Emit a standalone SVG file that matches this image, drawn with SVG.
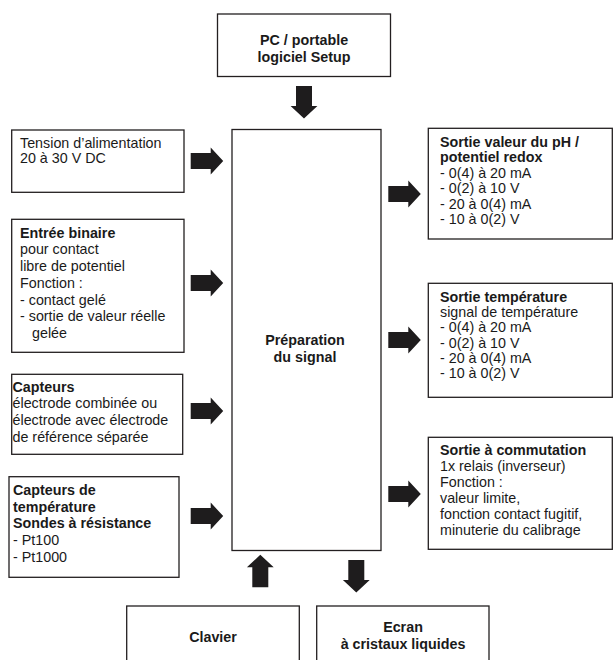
<svg xmlns="http://www.w3.org/2000/svg" xmlns:xlink="http://www.w3.org/1999/xlink" width="613" height="660" viewBox="0 0 613 660">
<style>
.box{fill:#fff;stroke:#231f20;stroke-width:1.3}
text{font-family:"Liberation Sans",Arial,Helvetica,sans-serif;font-size:14.3px;fill:#1a1a1a}
.b{font-weight:bold}
.c{text-anchor:middle;font-weight:bold}
.arr{fill:#1e1c1d}
</style>
<defs>
<path id="arr" d="M0,-8 H20 V-13.4 L32.5,0 L20,13.4 V8 H0 Z"/>
</defs>
<rect width="613" height="660" fill="#fff"/>

<g id="pc">
<rect class="box" x="217.5" y="14" width="173" height="62.5"/>
<text class="c" x="304" y="44.5">PC / portable</text>
<text class="c" x="304" y="62">logiciel Setup</text>
</g>

<g id="central">
<rect class="box" x="232" y="129.5" width="149" height="421"/>
<text class="c" x="305" y="345">Préparation</text>
<text class="c" x="305" y="361.7">du signal</text>
</g>

<g id="tension">
<rect class="box" x="11.7" y="130" width="172.3" height="62.3"/>
<text x="20" y="148.3">Tension d’alimentation</text>
<text x="20" y="163.3">20 à 30 V DC</text>
</g>

<g id="entree">
<rect class="box" x="11.7" y="219.3" width="172.3" height="133"/>
<text class="b" x="20" y="237.7">Entrée binaire</text>
<text x="20" y="254.4">pour contact</text>
<text x="20" y="271.1">libre de potentiel</text>
<text x="20" y="287.8">Fonction :</text>
<text x="20" y="304.5">- contact gelé</text>
<text x="20" y="321.2">- sortie de valeur réelle</text>
<text x="32" y="337.9">gelée</text>
</g>

<g id="capteurs">
<rect class="box" x="11.7" y="374.3" width="171" height="80"/>
<text class="b" x="12.5" y="391.7">Capteurs</text>
<text x="12.5" y="408.3">électrode combinée ou</text>
<text x="12.5" y="425">électrode avec électrode</text>
<text x="12.5" y="441.7">de référence séparée</text>
</g>

<g id="capteurs-temp">
<rect class="box" x="9" y="476.7" width="170" height="100.6"/>
<text class="b" x="13" y="495">Capteurs de</text>
<text class="b" x="13" y="511.7">température</text>
<text class="b" x="13" y="528.3">Sondes à résistance</text>
<text x="13" y="545">- Pt100</text>
<text x="13" y="561.7">- Pt1000</text>
</g>

<g id="sortie-ph">
<rect class="box" x="428.3" y="128.3" width="184" height="110.7"/>
<text class="b" x="440" y="146.7">Sortie valeur du pH /</text>
<text class="b" x="440" y="162.2">potentiel redox</text>
<text x="440" y="177.7">- 0(4) à 20 mA</text>
<text x="440" y="193.2">- 0(2) à 10 V</text>
<text x="440" y="208.7">- 20 à 0(4) mA</text>
<text x="440" y="224.2">- 10 à 0(2) V</text>
</g>

<g id="sortie-temp">
<rect class="box" x="428.3" y="283.3" width="184" height="114"/>
<text class="b" x="440" y="301.7">Sortie température</text>
<text x="440" y="317">signal de température</text>
<text x="440" y="332.3">- 0(4) à 20 mA</text>
<text x="440" y="347.6">- 0(2) à 10 V</text>
<text x="440" y="362.9">- 20 à 0(4) mA</text>
<text x="440" y="378.2">- 10 à 0(2) V</text>
</g>

<g id="sortie-commutation">
<rect class="box" x="428.3" y="437.3" width="184" height="112"/>
<text class="b" x="440" y="455">Sortie à commutation</text>
<text x="440" y="471">1x relais (inverseur)</text>
<text x="440" y="487">Fonction :</text>
<text x="440" y="503">valeur limite,</text>
<text x="440" y="519">fonction contact fugitif,</text>
<text x="440" y="535">minuterie du calibrage</text>
</g>

<g id="clavier">
<rect class="box" x="126.7" y="606" width="172.6" height="70"/>
<text class="c" x="213" y="642.3">Clavier</text>
</g>

<g id="ecran">
<rect class="box" x="316.7" y="606" width="172.3" height="70"/>
<text class="c" x="403" y="632.3">Ecran</text>
<text class="c" x="403" y="649">à cristaux liquides</text>
</g>

<g id="connectors" class="arr">
<use xlink:href="#arr" transform="translate(304,86) rotate(90)"/>
<use xlink:href="#arr" transform="translate(190.7,161)"/>
<use xlink:href="#arr" transform="translate(190.7,283)"/>
<use xlink:href="#arr" transform="translate(190.7,411)"/>
<use xlink:href="#arr" transform="translate(190.7,516)"/>
<use xlink:href="#arr" transform="translate(388.3,194)"/>
<use xlink:href="#arr" transform="translate(388.3,340)"/>
<use xlink:href="#arr" transform="translate(388.3,494)"/>
<use xlink:href="#arr" transform="translate(260.3,587.3) rotate(-90)"/>
<use xlink:href="#arr" transform="translate(356.3,560) rotate(90)"/>
</g>
</svg>
